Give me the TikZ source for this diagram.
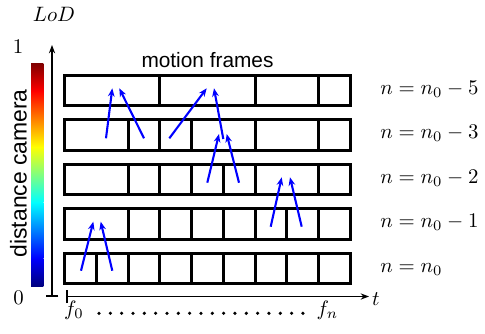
\documentclass[tikz,border=0pt]{standalone}
\usepackage{fontspec}
\newfontfamily\labelsans{Liberation Sans}
\usetikzlibrary{arrows.meta}
\definecolor{jdb}{rgb}{0,0,0.5}
\definecolor{jdr}{rgb}{0.5,0,0}
\begin{document}
\begin{tikzpicture}[x=0.48pt,y=-0.48pt,
  frame/.style={line width=1.45pt},
  mv/.style={blue, line width=1pt, -{Stealth[length=4pt,width=3.2pt]}},
  axis/.style={line width=0.85pt},
  lab/.style={inner sep=0pt, anchor=base west}]
\useasboundingbox (0,0) rectangle (485,334);

% colour bar (jet)
\shade[bottom color=jdb, top color=blue] (31,286) rectangle (43.3,258);
\shade[bottom color=blue, top color=cyan] (31,258.4) rectangle (43.3,202.3);
\shade[bottom color=cyan, top color=yellow] (31,202.7) rectangle (43.3,146.6);
\shade[bottom color=yellow, top color=red] (31,147) rectangle (43.3,90.9);
\shade[bottom color=red, top color=jdr] (31,91.3) rectangle (43.3,63.3);

% axes
\coordinate (vb) at (52,296.5);
\coordinate (vt) at (52,45);
\coordinate (hb) at (66,296.5);
\coordinate (he) at (369,296.5);
\draw[axis, {Bar[width=6.2pt]}-{Stealth[length=4pt,width=3pt]}] (vb) -- (vt);
\draw[axis, {Bar[width=6.4pt]}-{Stealth[length=4pt,width=3pt]}] (hb) -- (he);

% frame rows
\def\xa{64.8}\def\xb{350.2}\def\cw{31.71}\def\hh{15.15}
% row 1 : n0-5
\draw[frame] (\xa,90.6-\hh) rectangle (\xb,90.6+\hh);
\foreach \d in {3,6,8} \draw[frame] ({\xa+\cw*\d},90.6-\hh) -- ({\xa+\cw*\d},90.6+\hh);
% row 2 : n0-3
\draw[frame] (\xa,135.1-\hh) rectangle (\xb,135.1+\hh);
\foreach \d in {2,3,4,6,8} \draw[frame] ({\xa+\cw*\d},135.1-\hh) -- ({\xa+\cw*\d},135.1+\hh);
% row 3 : n0-2
\draw[frame] (\xa,179.6-\hh) rectangle (\xb,179.6+\hh);
\foreach \d in {2,3,4,5,6,8} \draw[frame] ({\xa+\cw*\d},179.6-\hh) -- ({\xa+\cw*\d},179.6+\hh);
% row 4 : n0-1
\draw[frame] (\xa,224.1-\hh) rectangle (\xb,224.1+\hh);
\foreach \d in {2,3,4,5,6,7,8} \draw[frame] ({\xa+\cw*\d},224.1-\hh) -- ({\xa+\cw*\d},224.1+\hh);
% row 5 : n0
\draw[frame] (\xa,268.6-\hh) rectangle (\xb,268.6+\hh);
\foreach \d in {1,...,8} \draw[frame] ({\xa+\cw*\d},268.6-\hh) -- ({\xa+\cw*\d},268.6+\hh);

% motion arrows
\coordinate (as) at (106,138.3);   \coordinate (ae) at (112.3,88.3);
\coordinate (bs) at (144,138.3);   \coordinate (be) at (119.3,88.3);
\coordinate (cs) at (169.3,138.3); \coordinate (ce) at (206.7,88.3);
\coordinate (ds) at (223.3,139);   \coordinate (de) at (214,88.3);
\coordinate (es) at (207.3,182.7); \coordinate (ee) at (219,134);
\coordinate (fs) at (239,182.7);   \coordinate (fe) at (226.7,134);
\coordinate (gs) at (270.7,226.7); \coordinate (ge) at (281.7,177.3);
\coordinate (hs) at (301.7,226.7); \coordinate (he2) at (290,177.3);
\coordinate (is) at (81,270.7);    \coordinate (ie) at (93.3,221.7);
\coordinate (js) at (112.3,270.7); \coordinate (je) at (100.7,221.7);
\draw[mv] (as) -- (ae);
\draw[mv] (bs) -- (be);
\draw[mv] (cs) -- (ce);
\draw[mv] (ds) -- (de);
\draw[mv] (es) -- (ee);
\draw[mv] (fs) -- (fe);
\draw[mv] (gs) -- (ge);
\draw[mv] (hs) -- (he2);
\draw[mv] (is) -- (ie);
\draw[mv] (js) -- (je);

% labels
\node (lod) at (54,14) {$LoD$};
\node (one) at (18,46.5) {1};
\node (zero) at (18.5,297.5) {0};
\node (tlab) at (376,299) {$t$};
\node (f0) at (74,310) {$f_0$};
\node (fn) at (327.5,310) {$f_n$};
\foreach \i in {0,...,18} \fill ({99+11.33*\i},313.3) circle[radius=0.85pt];
\node (mf) at (207.5,60) {\labelsans motion frames};
\node[rotate=90] (dc) at (18.5,173.3) {\labelsans\fontsize{11}{13}\selectfont distance camera};
\node[lab] (l1) at (380,94.3) {$n=n_0-5$};
\node[lab] (l2) at (380,138.8) {$n=n_0-3$};
\node[lab] (l3) at (380,183.3) {$n=n_0-2$};
\node[lab] (l4) at (380,227.8) {$n=n_0-1$};
\node[lab] (l5) at (380,272.3) {$n=n_0$};
\end{tikzpicture}
\end{document}
